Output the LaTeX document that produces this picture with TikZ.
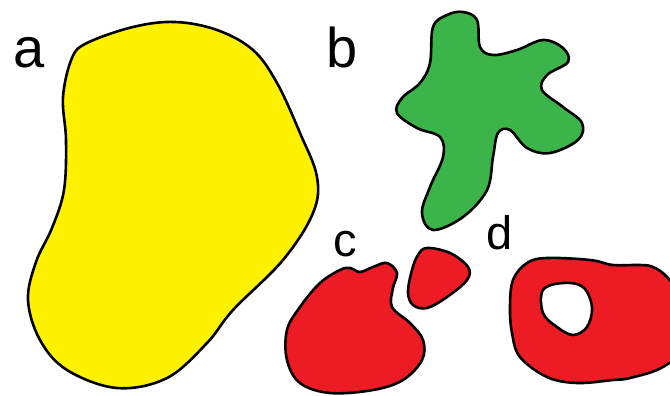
\documentclass[tikz,border=0pt]{standalone}
\usepackage{fontspec}
\setmainfont{Liberation Sans}
\definecolor{ayellow}{HTML}{FFF200}
\definecolor{bgreen}{HTML}{3BB54A}
\definecolor{cred}{HTML}{ED1C24}
\tikzset{
  blob/.style={draw=black, line width=2.6pt, line join=round},
  biglabel/.style={anchor=base west, inner sep=0pt, font=\fontsize{56}{60}\selectfont},
  smalllabel/.style={anchor=base west, inner sep=0pt, font=\fontsize{47}{50}\selectfont}
}
\begin{document}
\begin{tikzpicture}[x=1pt,y=-1pt]
\useasboundingbox (0,0) rectangle (670,396);
\begin{scope}
\clip (0,0) rectangle (670,396);
% a
\draw[blob, fill=ayellow] plot[smooth cycle, tension=0.6] coordinates {
 (175,22) (217,30) (253,50) (277,83) (300,133) (317,177) (313,213) (283,260)
 (233,310) (207,343) (167,378) (117,388) (67,370) (40,340) (28,300) (36,262)
 (52,228) (64,190) (66,140) (63,97) (72,58) (87,43) (133,27)};
% b
\draw[blob, fill=bgreen] plot[smooth cycle, tension=0.6] coordinates {
 (463,12) (477,20) (480,47) (493,55) (517,50) (543,40) (563,48) (568,62)
 (547,75) (542,90) (563,107) (582,123) (578,140) (550,153) (527,148) (510,130)
 (498,133) (493,157) (487,190) (463,217) (433,230) (422,213) (430,187) (443,157)
 (440,137) (417,128) (397,113) (402,98) (420,83) (430,63) (433,27) (447,15)};
% c big
\draw[blob, fill=cred] plot[smooth cycle, tension=0.6] coordinates {
 (387,263) (397,273) (393,288) (392,307) (410,323) (423,340) (422,360) (403,380)
 (373,390) (330,393) (300,383) (287,360) (287,330) (300,307) (320,283) (340,270)
 (350,268) (360,272) (373,267)};
% c small
\draw[blob, fill=cred] plot[smooth cycle, tension=0.6] coordinates {
 (427,248) (450,253) (468,267) (467,280) (447,297) (427,308) (413,305) (408,292)
 (412,270) (418,255)};
% d with hole
\draw[blob, fill=cred, even odd rule]
 plot[smooth cycle, tension=0.6] coordinates {
 (513,280) (527,263) (547,258) (590,260) (613,265) (640,265) (653,267) (667,277)
 (682,300) (684,345) (663,367) (630,378) (613,380) (577,383) (547,377) (520,357)
 (512,333) (510,307)}
 plot[smooth cycle, tension=0.6] coordinates {
 (543,290) (563,283) (583,287) (592,307) (587,327) (573,335) (557,327) (543,313)};
\end{scope}
\node[biglabel] (la) at (13,68) {a};
\node[biglabel] (lb) at (326,67) {b};
\node[smalllabel] (lc) at (333,256) {c};
\node[smalllabel] (ld) at (486,249) {d};
\end{tikzpicture}
\end{document}
